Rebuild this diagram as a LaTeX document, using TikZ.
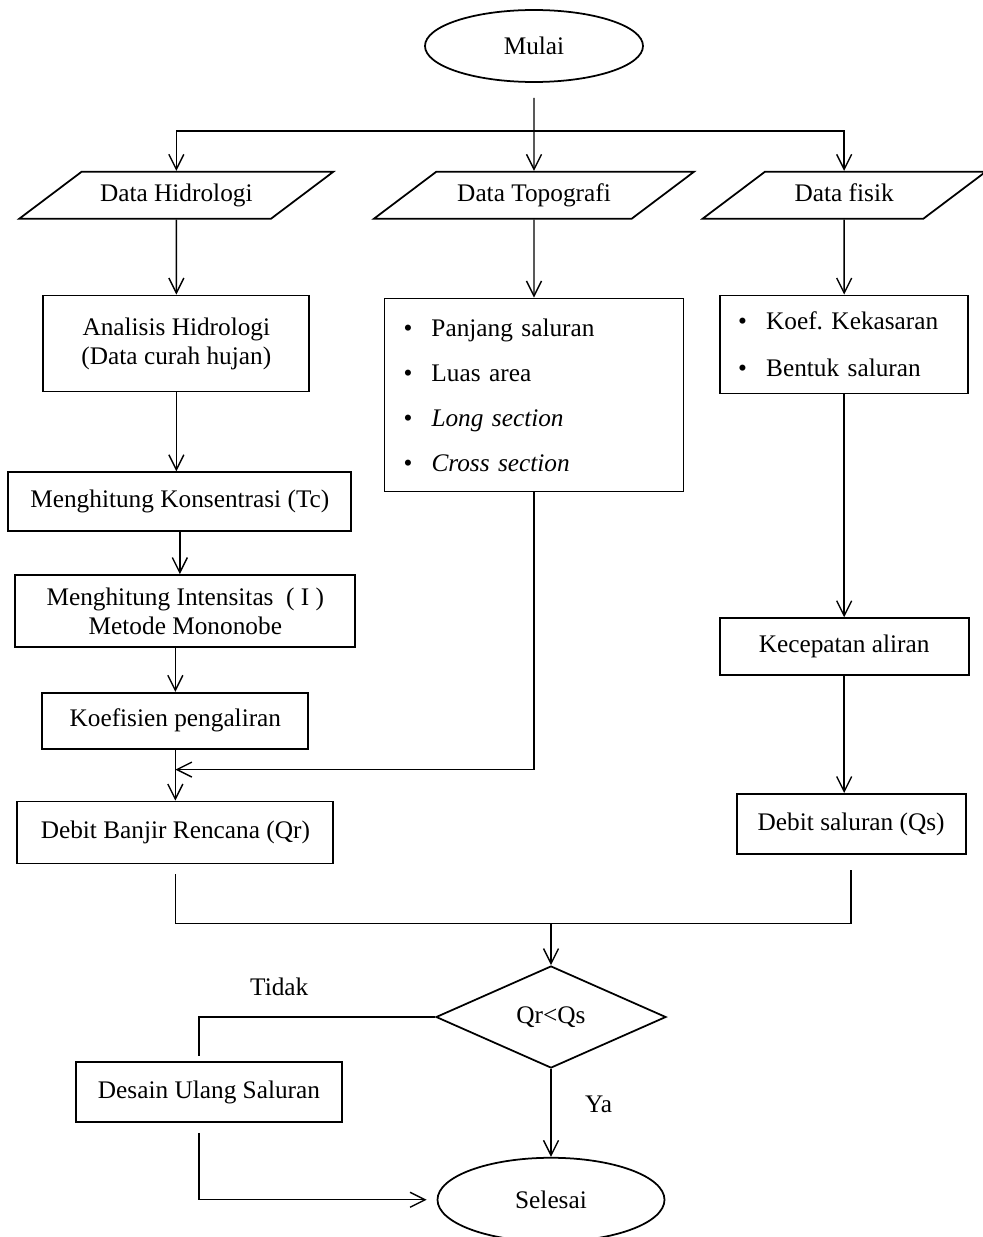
\documentclass[tikz,border=0pt]{standalone}
\usepackage{fontspec}
\setmainfont{Liberation Serif}
\usepackage{tikz}
\usetikzlibrary{arrows.meta}
\usetikzlibrary{positioning}
\usetikzlibrary{shapes.geometric}

\newcommand{\butir}{\makebox[0.56cm][l]{\textbullet}}

\begin{document}
\begin{tikzpicture}[
        font=\fontsize{14.4}{16.5}\selectfont,
        >={Straight Barb[length=3mm,width=3mm]},
        line width=0.8pt,
        terminal/.style={ellipse, draw, line width=1pt, inner sep=0pt},
        masukan/.style={trapezium, trapezium left angle=37, trapezium right angle=143,
            trapezium stretches body, draw, line width=1pt, text height=10pt, text depth=3pt,
            inner xsep=2pt, inner ysep=6.85pt},
        proses/.style={rectangle, draw, line width=1pt, align=center},
        daftar/.style={rectangle, draw, line width=1pt, align=left},
        keputusan/.style={diamond, draw, line width=1pt, inner sep=0pt}
    ]

                \useasboundingbox (0,0) rectangle (19.66,-24.74);

                \node[terminal, minimum width=4.36cm, minimum height=1.44cm] (mulai) at (10.68,-0.92) {Mulai};
                \coordinate[below = 0.96 of mulai] (t_0);
                \node[masukan, minimum width=6.4cm] (data_2) [below = 1.76 of mulai] {Data Topografi};
                \node[masukan, minimum width=6.28cm] (data_1) [left = 2.0 of data_2] {Data Hidrologi};
                \node[masukan, minimum width=5.66cm] (data_3) [right = 1.36 of data_2] {Data fisik};

                \node[proses, minimum width=5.32cm, minimum height=1.92cm] (box_1) [below = 1.5 of data_1] {Analisis Hidrologi\\(Data curah hujan)};
                \node[daftar, text width=5.22cm, inner xsep=0.38cm, minimum height=3.86cm] (box_2) [below = 1.56 of data_2]
                    {\butir Panjang saluran\\[0.32cm]
                     \butir Luas area\\[0.32cm]
                     \butir \textit{Long section}\\[0.32cm]
                     \butir \textit{Cross section}};
                \node[daftar, text width=4.24cm, inner xsep=0.36cm, minimum height=1.96cm] (box_3) [below = 1.5 of data_3]
                    {\butir Koef.\ Kekasaran\\[0.36cm]
                     \butir Bentuk saluran};

                \node[proses, minimum width=6.86cm, minimum height=1.18cm] (h_1) [below = 1.58 of box_1, xshift=0.07cm] {Menghitung Konsentrasi (Tc)};
                \node[proses, minimum width=6.8cm, minimum height=1.44cm] (h_2) [below = 0.84 of h_1, xshift=0.11cm] {Menghitung Intensitas~ ( I )\\Metode Mononobe};
                \node[proses, minimum width=5.32cm, minimum height=1.12cm] (h_3) [below = 0.88 of h_2, xshift=-0.2cm] {Koefisien pengaliran};
                \coordinate[below = 0.4 of h_3] (j_0);
                \node[proses, minimum width=6.32cm, minimum height=1.24cm] (qr_0) [below = 1.02 of h_3] {Debit Banjir Rencana (Qr)};
                \coordinate[below = 1.18 of qr_0] (m_1);

                \node[proses, minimum width=4.98cm, minimum height=1.14cm] (kec_0) [below = 4.46 of box_3] {Kecepatan aliran};
                \node[proses, minimum width=4.58cm, minimum height=1.2cm] (qs_0) [below = 2.34 of kec_0, xshift=0.14cm] {Debit saluran (Qs)};

                \node[keputusan, minimum width=4.6cm, minimum height=2.04cm] (cek_0) at (11.02,-20.34) {Qr<Qs};
                \node[proses, minimum width=5.32cm, minimum height=1.2cm] (desain_0) at (4.18,-21.84) {Desain Ulang Saluran};
                \node[terminal, minimum width=4.54cm, minimum height=1.68cm] (selesai) [below = 1.76 of cek_0] {Selesai};

                \draw[->, shorten <=0.3cm] (mulai) -- (data_2);
                \draw[->] (t_0) -| (data_1);
                \draw[->] (t_0) -| (data_3);

                \path[->]
                    (data_1) edge (box_1)
                    (data_2) edge (box_2)
                    (data_3) edge (box_3)
                    (box_1) edge (box_1 |- h_1.north)
                    (h_1) edge (h_1 |- h_2.north)
                    (h_2.south -| h_3) edge (h_3)
                    (h_3) edge (qr_0)
                    (box_3) edge (box_3 |- kec_0.north)
                    (kec_0) edge (kec_0 |- qs_0.north);

                \draw[->] (box_2) |- (j_0);
                \draw[shorten <=0.2cm, shorten >=0.3cm] (qr_0) -- (m_1) -| (qs_0);
                \draw[->] (m_1 -| cek_0) -- (cek_0);

                \draw[shorten >=0.1cm] (cek_0.west) -| node[pos=0.33, above=0.3cm] {Tidak} ([xshift=-0.2cm]desain_0.north);
                \draw[->, shorten <=0.2cm, shorten >=0.2cm] ([xshift=-0.2cm]desain_0.south) |- (selesai);
                \path[->] (cek_0) edge node[right=0.55cm, pos=0.4] {Ya} (selesai);

\end{tikzpicture}
\end{document}
